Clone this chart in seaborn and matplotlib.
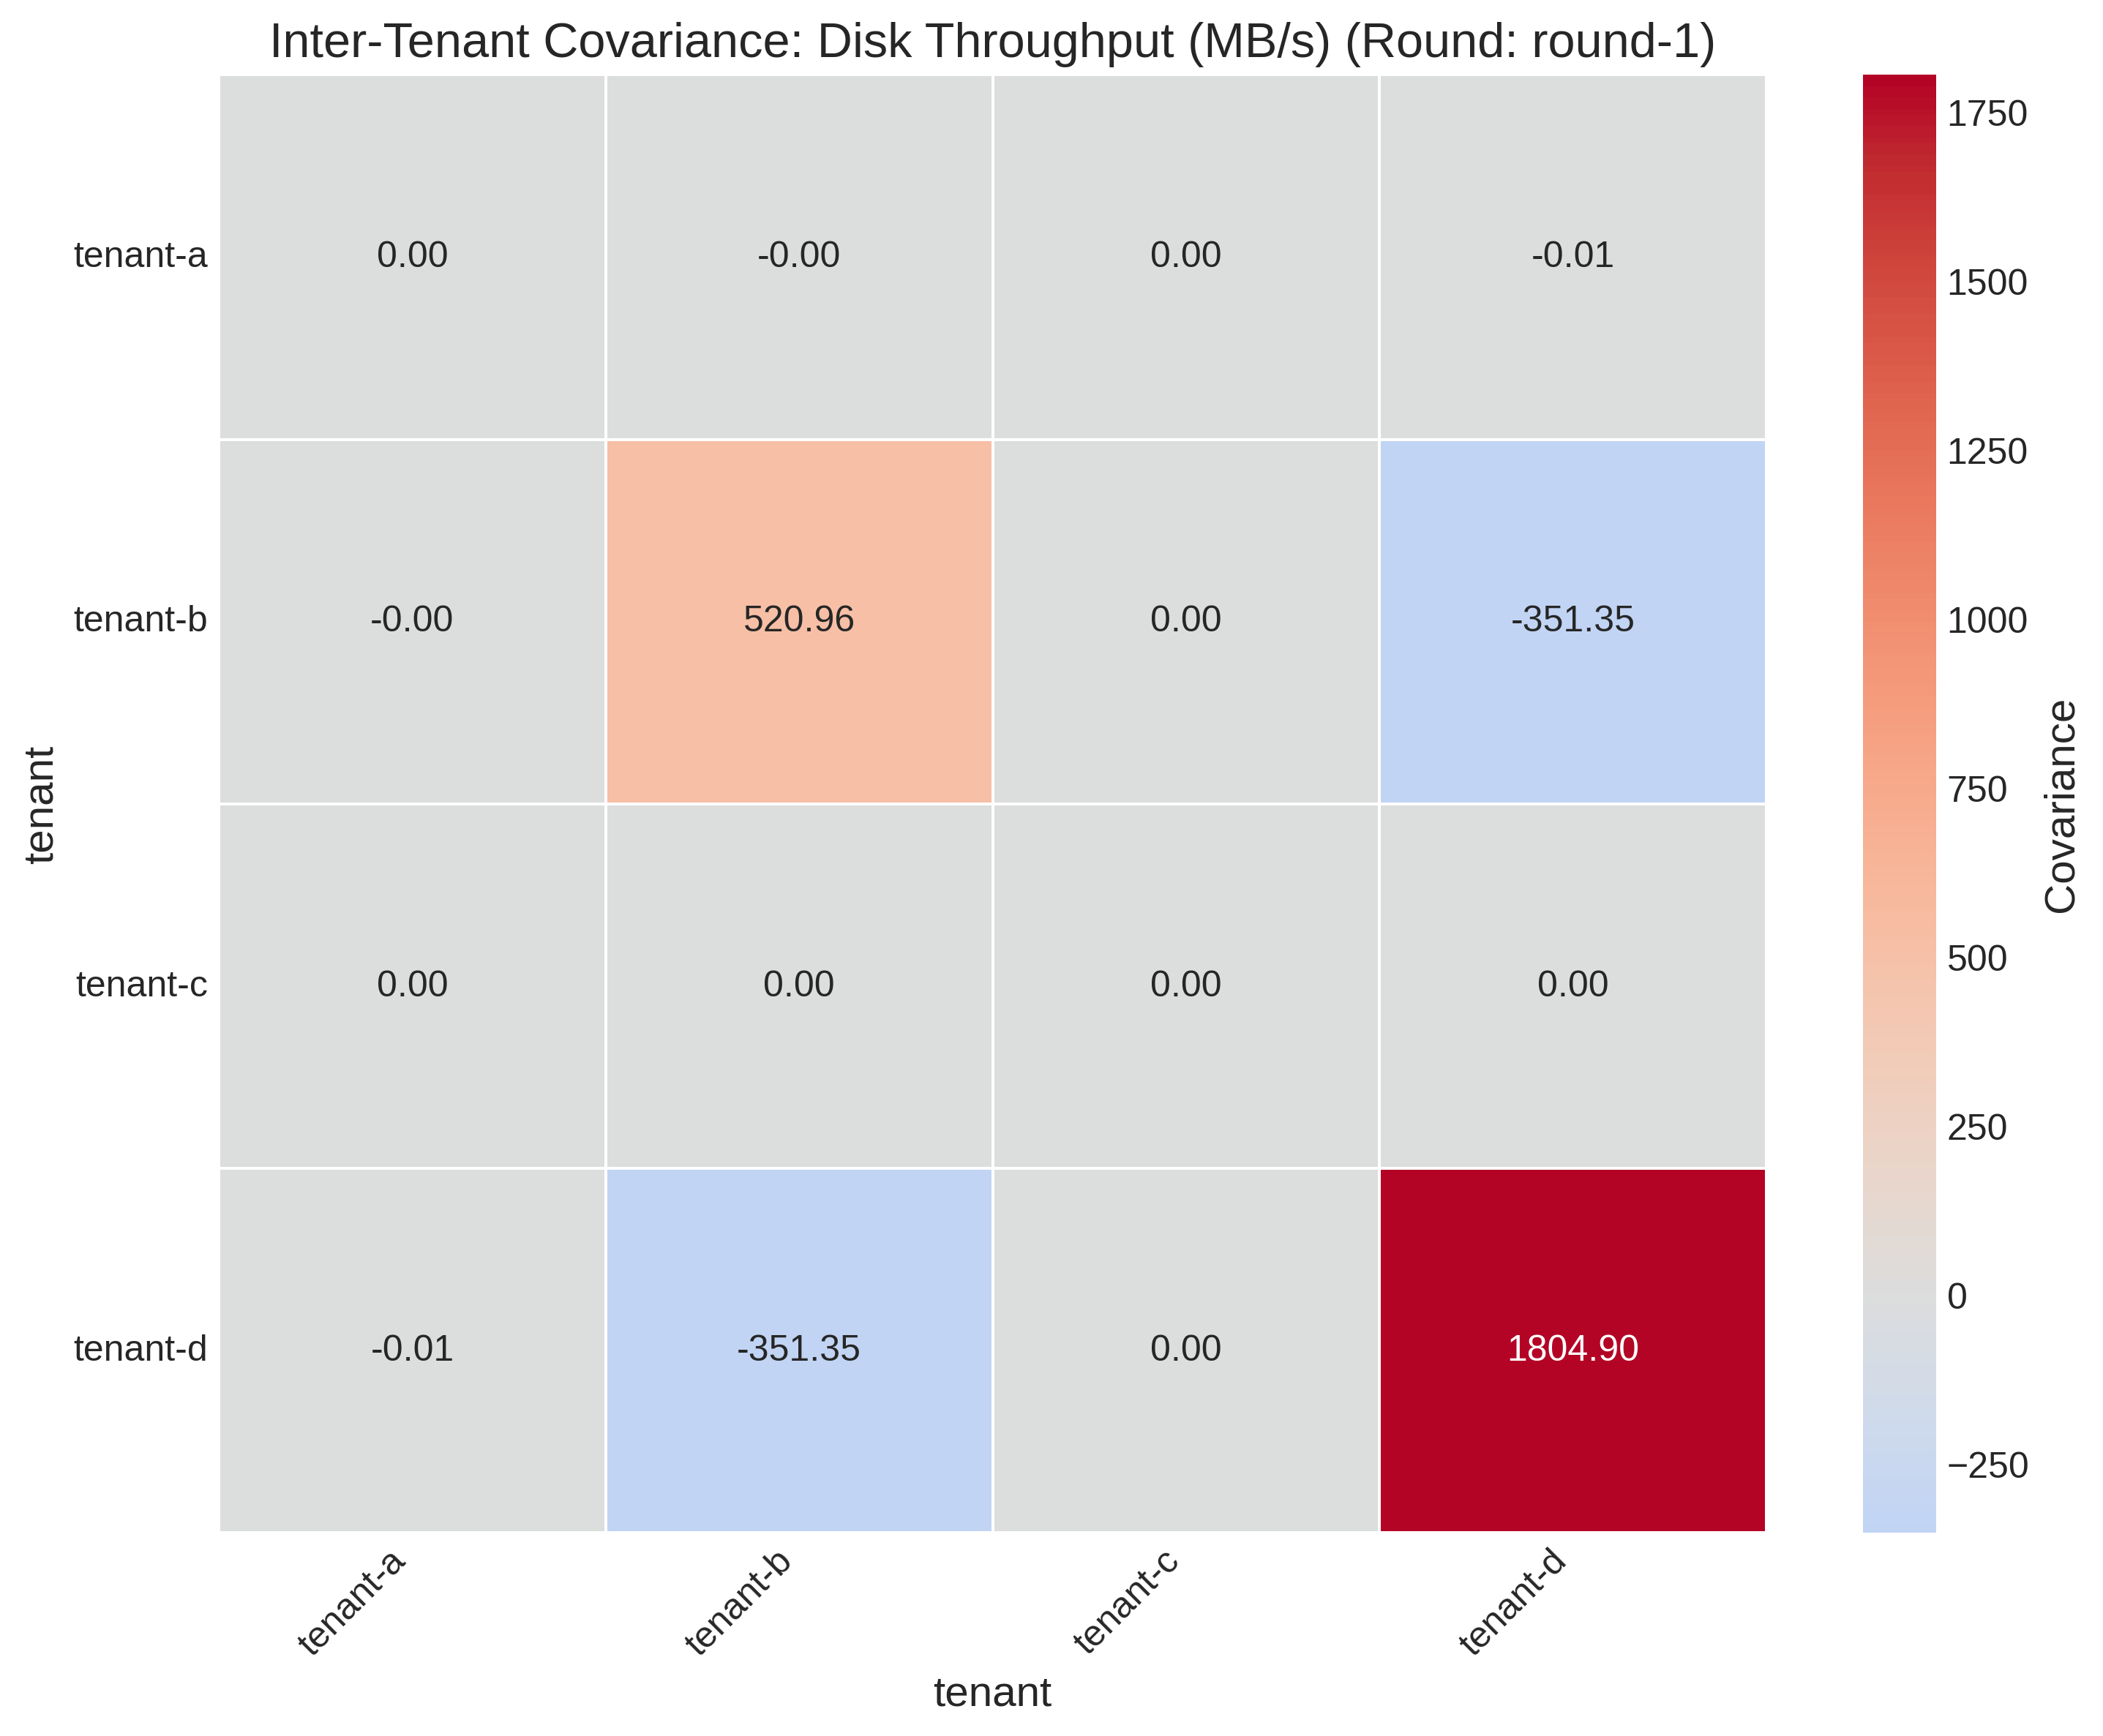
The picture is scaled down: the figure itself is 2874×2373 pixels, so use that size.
import matplotlib
matplotlib.use('Agg')
import matplotlib.pyplot as plt
import seaborn as sns
import pandas as pd

tenants = ['tenant-a', 'tenant-b', 'tenant-c', 'tenant-d']
row_a = [0.00, -0.001, 0.00, -0.01]
row_b = [-0.001, 520.96, 0.00, -351.35]
row_c = [0.00, 0.00, 0.00, 0.00]
row_d = [-0.01, -351.35, 0.00, 1804.90]

plt.style.use('seaborn-v0_8-whitegrid')
plt.rcParams['font.family'] = ['Liberation Sans', 'DejaVu Sans']

cov = pd.DataFrame([row_a, row_b, row_c, row_d], index=tenants, columns=tenants)
cov.index.name = 'tenant'
cov.columns.name = 'tenant'

plt.figure(figsize=(10, 8))
ax = sns.heatmap(cov, annot=True, fmt='.2f', cmap='coolwarm', center=0,
                 linewidths=0.5, linecolor='white',
                 annot_kws={'size': 12},
                 cbar_kws={'label': 'Covariance'})
ax.set_title('Inter-Tenant Covariance: Disk Throughput (MB/s) (Round: round-1)', fontsize=16)
ax.set_xlabel('tenant', fontsize=14)
ax.set_ylabel('tenant', fontsize=14)
plt.xticks(rotation=45, ha='right', fontsize=12)
plt.yticks(rotation=0, fontsize=12)
cbar = ax.collections[0].colorbar
cbar.ax.tick_params(labelsize=12)
cbar.set_label('Covariance', fontsize=14)
plt.tight_layout()
plt.savefig('out.png', dpi=300, bbox_inches='tight')
plt.close()
